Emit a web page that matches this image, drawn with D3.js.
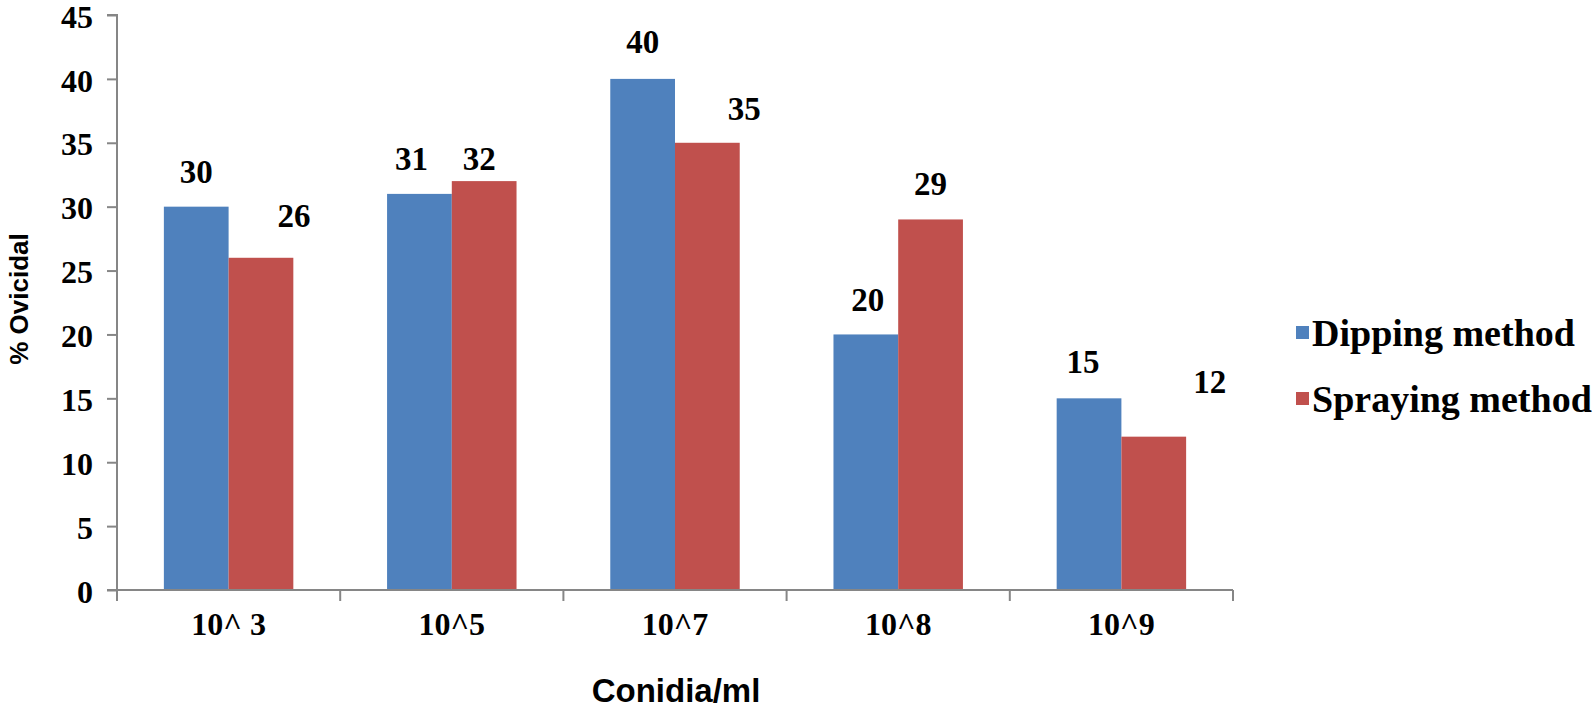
<!DOCTYPE html>
<html>
<head>
<meta charset="utf-8">
<script src="https://cdn.jsdelivr.net/npm/d3@7"></script>
<style>
  body { margin: 0; background: #fff; }
  svg { display: block; }
</style>
</head>
<body>
<svg id="chart" width="1594" height="713"></svg>
<script>
// data
const categories = ["10^ 3", "10^5", "10^7", "10^8", "10^9"]
const seriesNames = ["Dipping method", "Spraying method"]
const dipping = [30, 31, 40, 20, 15]
const spraying = [26, 32, 35, 29, 12]
const yTicks = [0, 5, 10, 15, 20, 25, 30, 35, 40, 45]

// the value labels were dragged around by hand in the original, [dx, dy] from bar top
const dippingNudge = [[0, -24], [-8, -24], [0, -26], [2, -23], [-6, -25]]
const sprayingNudge = [[33, -31], [-5, -11], [37, -23], [0, -24], [56, -44]]

const colors = ["#4F81BD", "#C0504D"]
const axisColor = "#868686"
const serif = "'Liberation Serif', 'Times New Roman', serif"
const sans = "'Liberation Sans', Arial, sans-serif"

const svg = d3.select("#chart")

const x0 = 117, x1 = 1233, yTop = 15, yBottom = 590

const x = d3.scaleBand()
  .domain(categories)
  .range([x0, x1])
  .paddingInner(0.42)
  .paddingOuter(0.21)

const xInner = d3.scaleBand()
  .domain(seriesNames)
  .range([0, x.bandwidth()])

const y = d3.scaleLinear()
  .domain([0, 45])
  .range([yBottom, yTop])

// y axis
const yAxis = svg.append("g")
  .attr("transform", `translate(${x0},0)`)
  .call(d3.axisLeft(y).tickValues(yTicks).tickSize(10).tickPadding(14))
yAxis.select(".domain").attr("stroke", axisColor).attr("stroke-width", 2)
  .attr("d", `M-10,${yTop}H0V${yBottom}`)
yAxis.selectAll(".tick line").attr("stroke", axisColor).attr("stroke-width", 2)
yAxis.selectAll(".tick text")
  .attr("fill", "#000")
  .attr("dy", "0.38em")
  .style("font-family", serif)
  .style("font-weight", "bold")
  .style("font-size", "32px")

// bars
const rows = categories.map((c, i) => ({cat: c, vals: [dipping[i], spraying[i]]}))

const groups = svg.append("g")
  .selectAll("g")
  .data(rows)
  .enter()
  .append("g")
  .attr("transform", d => `translate(${x(d.cat)},0)`)

groups.selectAll("rect")
  .data(d => d.vals.map((v, k) => ({name: seriesNames[k], v: v, k: k})))
  .enter()
  .append("rect")
  .attr("x", d => xInner(d.name))
  .attr("y", d => y(d.v))
  .attr("width", xInner.bandwidth())
  .attr("height", d => y(0) - y(d.v))
  .attr("fill", d => colors[d.k])

// x axis, ticks between categories
const step = x.step()
const xBounds = d3.range(categories.length + 1).map(i => x0 + i * step)
const xAxis = svg.append("g")
xAxis.append("line")
  .attr("x1", x0 - 10).attr("x2", x1)
  .attr("y1", yBottom).attr("y2", yBottom)
  .attr("stroke", axisColor).attr("stroke-width", 2)
xAxis.selectAll(".xt")
  .data(xBounds)
  .enter()
  .append("line")
  .attr("x1", d => d).attr("x2", d => d)
  .attr("y1", yBottom).attr("y2", yBottom + 11)
  .attr("stroke", axisColor).attr("stroke-width", 2)
xAxis.selectAll("text")
  .data(categories)
  .enter()
  .append("text")
  .attr("x", d => x(d) + x.bandwidth() / 2)
  .attr("y", 635)
  .attr("text-anchor", "middle")
  .style("font-family", serif)
  .style("font-weight", "bold")
  .style("font-size", "32px")
  .text(d => d)

// value labels
const labels = []
categories.forEach((c, i) => {
  labels.push({cat: c, name: seriesNames[0], v: dipping[i], n: dippingNudge[i]})
  labels.push({cat: c, name: seriesNames[1], v: spraying[i], n: sprayingNudge[i]})
})
svg.append("g")
  .selectAll("text")
  .data(labels)
  .enter()
  .append("text")
  .attr("x", d => x(d.cat) + xInner(d.name) + xInner.bandwidth() / 2 + d.n[0])
  .attr("y", d => y(d.v) + d.n[1])
  .attr("text-anchor", "middle")
  .style("font-family", serif)
  .style("font-weight", "bold")
  .style("font-size", "33px")
  .text(d => d.v)

// axis titles
svg.append("text")
  .attr("x", 676).attr("y", 702)
  .attr("text-anchor", "middle")
  .style("font-family", sans)
  .style("font-weight", "bold")
  .style("font-size", "33px")
  .text("Conidia/ml")

svg.append("text")
  .attr("transform", "translate(28,299) rotate(-90)")
  .attr("text-anchor", "middle")
  .style("font-family", sans)
  .style("font-weight", "bold")
  .style("font-size", "26px")
  .text("% Ovicidal")

// legend
const legend = svg.append("g")
  .selectAll("g")
  .data(seriesNames)
  .enter()
  .append("g")
  .attr("transform", (d, i) => `translate(1296,${326 + i * 66})`)
legend.append("rect")
  .attr("width", 13).attr("height", 13)
  .attr("fill", (d, i) => colors[i])
legend.append("text")
  .attr("x", 16).attr("y", 20)
  .style("font-family", serif)
  .style("font-weight", "bold")
  .style("font-size", "38px")
  .text(d => d)
</script>
</body>
</html>
